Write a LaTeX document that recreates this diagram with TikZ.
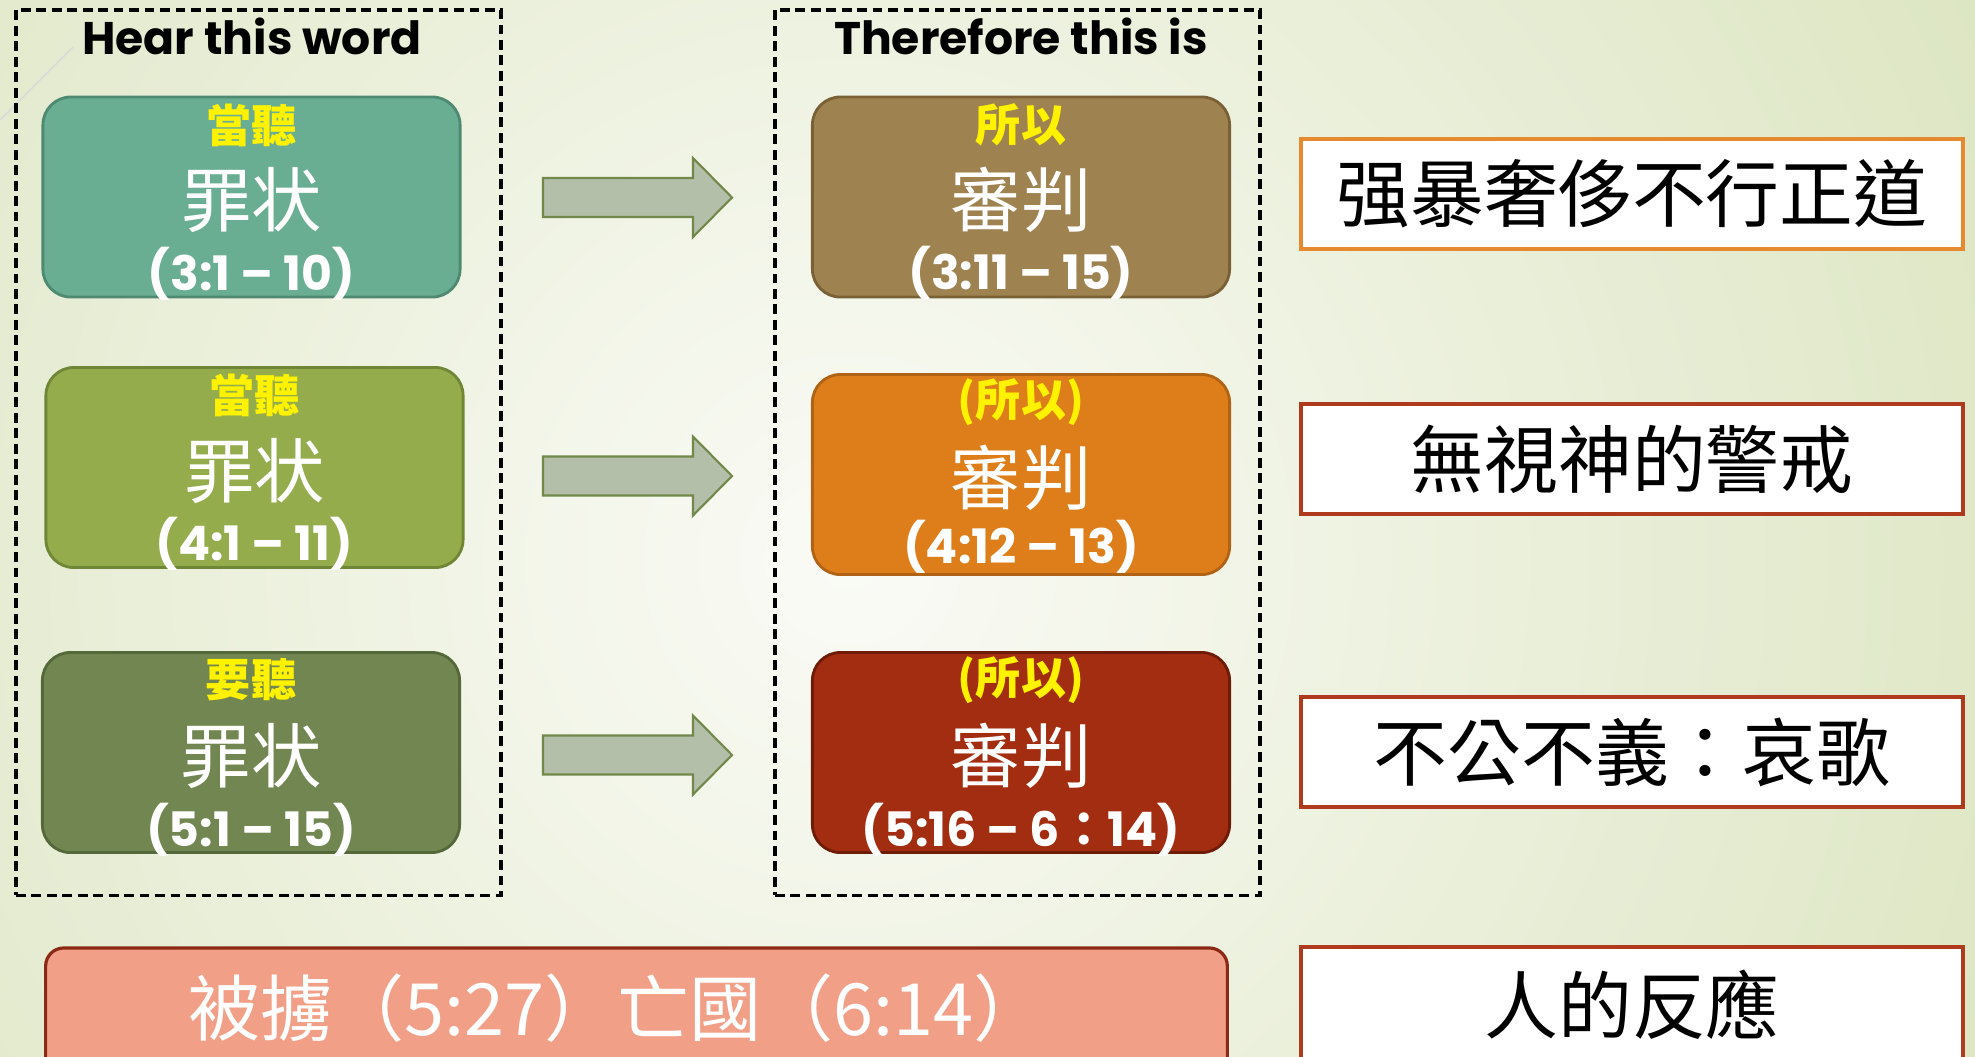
\documentclass[tikz,border=0pt]{standalone}
\usepackage{fontspec}
\setmainfont{Poppins}
\newfontfamily\cjk{Noto Sans CJK TC}
\usepackage{xcolor}

\definecolor{bgG}{HTML}{DCE5C1}
\definecolor{bgW}{HTML}{FAFBF6}
\definecolor{tealF}{HTML}{69AD93}
\definecolor{tealD}{HTML}{4E8A72}
\definecolor{oliveF}{HTML}{94AC4C}
\definecolor{oliveD}{HTML}{6F8636}
\definecolor{mossF}{HTML}{718650}
\definecolor{mossD}{HTML}{55683A}
\definecolor{brownF}{HTML}{9E8250}
\definecolor{brownD}{HTML}{7A6035}
\definecolor{orangeF}{HTML}{DE7E1A}
\definecolor{orangeD}{HTML}{B06215}
\definecolor{rustF}{HTML}{A32D10}
\definecolor{rustD}{HTML}{6E1B08}
\definecolor{pinkF}{HTML}{F29F88}
\definecolor{pinkD}{HTML}{8A2A14}
\definecolor{arrowF}{HTML}{B4BFA9}
\definecolor{arrowD}{HTML}{71884A}
\definecolor{edgeO}{HTML}{E58A2E}
\definecolor{edgeR}{HTML}{B03A1E}

\begin{document}
\begin{tikzpicture}[x=0.01cm, y=-0.01cm]
\useasboundingbox (0,0) rectangle (1975,1056);
\clip (0,0) rectangle (1975,1056);

% background
\fill[bgG] (0,0) rectangle (1975,1056);
\shade[inner color=bgW, outer color=bgG] (850,560) circle (1300);
\draw[line width=0.4pt, color=black!15] (0,120) -- (73,47);

% dashed frames
\begin{scope}[every node/.style={draw=black, line width=1pt, dash pattern=on 2.8pt off 1.6pt,
              minimum width=4.85cm, minimum height=8.85cm}]
  \node (F1) at (258.5,452.5) {};
  \node (F2) at (1017.5,452.5) {};
\end{scope}
\node[font=\bfseries\fontsize{13}{15}\selectfont] (H1) at (252,36) {Hear this word};
\node[font=\bfseries\fontsize{13}{15}\selectfont] (H2) at (1021,36) {Therefore this is};

% coloured boxes
\begin{scope}[every node/.style={draw, line width=0.8pt, rounded corners=0.28cm,
              minimum width=4.17cm, minimum height=2cm}]
  \node[fill=tealF, draw=tealD] (S1) at (251.5,197) {};
  \node[fill=oliveF, draw=oliveD] (S2) at (254.5,467.5) {};
  \node[fill=mossF, draw=mossD] (S3) at (251,752.5) {};
  \node[fill=brownF, draw=brownD] (J1) at (1021,197) {};
  \node[fill=orangeF, draw=orangeD] (J2) at (1021,474.5) {};
  \node[fill=rustF, draw=rustD] (J3) at (1021,752.5) {};
\end{scope}

% texts in the boxes
\begin{scope}[every node/.style={inner sep=0pt, text=yellow, font=\cjk\bfseries\fontsize{12.8}{14}\selectfont}]
  \node (y1) at (251.5,125) {當聽};
  \node (y2) at (254.5,395) {當聽};
  \node (y3) at (251,680) {要聽};
  \node (y4) at (1021,125) {所以};
  \node (y5) at (1021,402) {(所以)};
  \node (y6) at (1021,680) {(所以)};
\end{scope}
\begin{scope}[every node/.style={inner sep=0pt, text=white, font=\cjk\fontsize{20}{22}\selectfont}]
  \node (m1) at (251.5,200) {罪状};
  \node (m2) at (254.5,471) {罪状};
  \node (m3) at (251,756) {罪状};
  \node (m4) at (1021,200) {審判};
  \node (m5) at (1021,478) {審判};
  \node (m6) at (1021,756) {審判};
\end{scope}
\begin{scope}[every node/.style={inner sep=0pt, anchor=base, text=white, font=\bfseries\fontsize{13.5}{15}\selectfont}]
  \node (n1) at (251.5,290) {(3:1 – 10)};
  \node (n2) at (254.5,560) {(4:1 – 11)};
  \node (n3) at (251,846) {(5:1 – 15)};
  \node (n4) at (1021,289) {(3:11 – 15)};
  \node (n5) at (1021,563) {(4:12 – 13)};
  \node (n6) at (1021,846) {(5:16 – 6{\cjk ：}14)};
\end{scope}

% block arrows
\begin{scope}[fill=arrowF, draw=arrowD, line width=0.6pt]
  \coordinate (a1) at (543,197.5);
  \coordinate (a2) at (543,476);
  \coordinate (a3) at (543,755);
  \filldraw (a1) ++(0,-19.5) -- ++(150,0) -- ++(0,-20) -- ++(39,39.5) -- ++(-39,39.5) -- ++(0,-20) -- ++(-150,0) -- cycle;
  \filldraw (a2) ++(0,-19.5) -- ++(150,0) -- ++(0,-20) -- ++(39,39.5) -- ++(-39,39.5) -- ++(0,-20) -- ++(-150,0) -- cycle;
  \filldraw (a3) ++(0,-19.5) -- ++(150,0) -- ++(0,-20) -- ++(39,39.5) -- ++(-39,39.5) -- ++(0,-20) -- ++(-150,0) -- cycle;
\end{scope}

% white boxes on the right
\begin{scope}[every node/.style={draw=edgeR, fill=white, line width=1pt,
              minimum width=6.62cm, minimum height=1.1cm, font=\cjk\fontsize{21}{23}\selectfont}]
  \node[draw=edgeO] (R1) at (1632,194) {强暴奢侈不行正道};
  \node (R2) at (1632,459) {無視神的警戒};
  \node (R3) at (1632,752) {不公不義：哀歌};
  \node[minimum height=1.4cm] (R4) at (1632,1017) {};
\end{scope}
\node[inner sep=0pt, font=\cjk\fontsize{21}{23}\selectfont] (r4) at (1632,1005) {人的反應};

% bottom bar
\node[draw=pinkD, fill=pinkF, line width=0.9pt, rounded corners=0.18cm,
      minimum width=11.81cm, minimum height=1.44cm] (B) at (636.5,1020) {};
\node[inner sep=0pt, text=white, font=\cjk\fontsize{20.5}{22}\selectfont] (b) at (617,1008) {被擄（5:27）亡國（6:14）};

\end{tikzpicture}
\end{document}
